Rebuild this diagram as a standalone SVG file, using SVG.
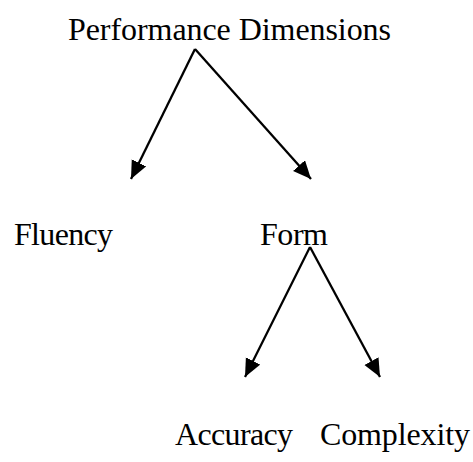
<svg xmlns="http://www.w3.org/2000/svg" width="473" height="462" viewBox="0 0 473 462">
<style>
text{font-family:"Liberation Serif","Times New Roman",serif;font-size:32px;fill:#000}
.c{stroke:#000;stroke-width:2.3;fill:none}
</style>
<defs>
<marker id="ah" markerUnits="userSpaceOnUse" markerWidth="20" markerHeight="18" refX="18" refY="8" orient="auto">
<path d="M0,0 L18,8 L0,16 Z" fill="#000"/>
</marker>
</defs>
<rect width="473" height="462" fill="#fff"/>
<g id="connectors">
<line class="c" x1="195" y1="49" x2="131" y2="179" marker-end="url(#ah)"/>
<line class="c" x1="195" y1="49" x2="311" y2="179" marker-end="url(#ah)"/>
<line class="c" x1="310" y1="247" x2="245" y2="377" marker-end="url(#ah)"/>
<line class="c" x1="310" y1="247" x2="380" y2="377" marker-end="url(#ah)"/>
</g>
<g id="performance"><text x="68" y="40" textLength="323">Performance Dimensions</text></g>
<g id="fluency"><text x="14" y="245" textLength="99">Fluency</text></g>
<g id="form"><text x="260" y="245" textLength="68">Form</text></g>
<g id="accuracy"><text x="175" y="445" textLength="118">Accuracy</text></g>
<g id="complexity"><text x="320" y="445" textLength="150">Complexity</text></g>
</svg>
